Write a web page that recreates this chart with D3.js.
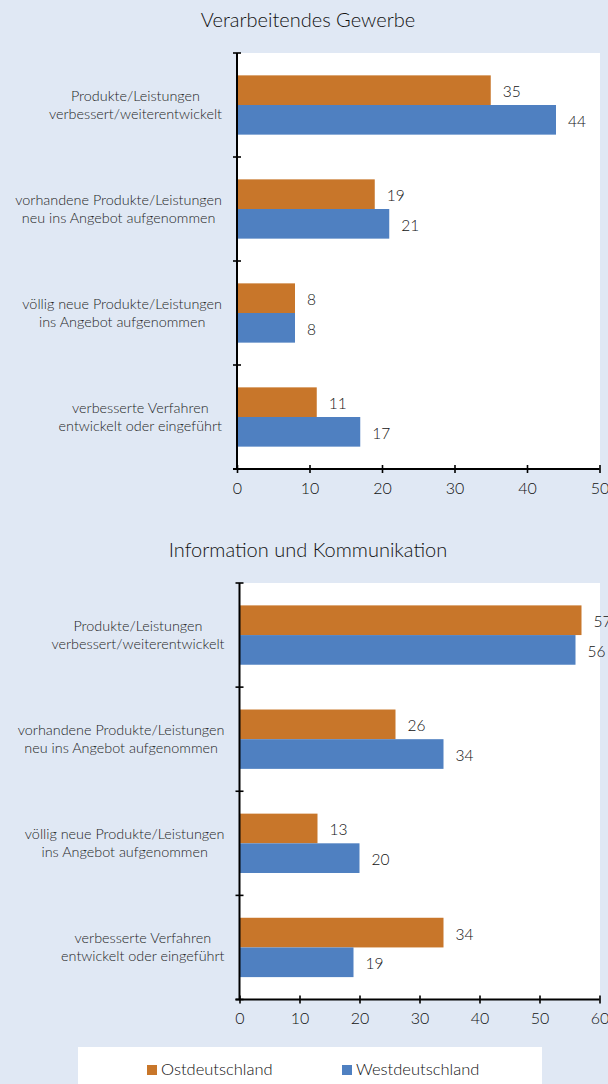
<!DOCTYPE html>
<html>
<head>
<meta charset="utf-8">
<script src="https://cdn.jsdelivr.net/npm/d3@7"></script>
<style>
  html, body { margin: 0; padding: 0; background: #E0E8F4; }
  svg { display: block; font-family: Lato, "Open Sans", sans-serif; font-weight: 300; }
</style>
</head>
<body>
<svg id="chart" width="608" height="1084"></svg>
<script>
// ---- data ----
const categories = [
  "Produkte/Leistungen|verbessert/weiterentwickelt",
  "vorhandene Produkte/Leistungen|neu ins Angebot aufgenommen",
  "völlig neue Produkte/Leistungen|ins Angebot aufgenommen",
  "verbesserte Verfahren|entwickelt oder eingeführt"
];
const seriesNames = ["Ostdeutschland", "Westdeutschland"];
const gewerbeOst = [35, 19, 8, 11];
const gewerbeWest = [44, 21, 8, 17];
const ikOst = [57, 26, 13, 34];
const ikWest = [56, 34, 20, 19];
const gewerbeTicks = [0, 10, 20, 30, 40, 50];
const ikTicks = [0, 10, 20, 30, 40, 50, 60];
const titles = ["Verarbeitendes Gewerbe", "Information und Kommunikation"];

// ---- styles ----
const colors = { "Ostdeutschland": "#C8762A", "Westdeutschland": "#4F80C1" };
const textColor = "#1e1e1e";

const svg = d3.select("#chart");
svg.append("rect").attr("width", 608).attr("height", 1084).attr("fill", "#E0E8F4");

const panels = [
  { title: titles[0], ost: gewerbeOst, west: gewerbeWest, ticks: gewerbeTicks,
    titleY: 27, top: 53, bottom: 469, x0: 237, x1: 599.5 },
  { title: titles[1], ost: ikOst, west: ikWest, ticks: ikTicks,
    titleY: 557, top: 583, bottom: 999.5, x0: 239.5, x1: 599.5 }
];

panels.forEach(p => {
  const g = svg.append("g");
  const x = d3.scaleLinear().domain([0, d3.max(p.ticks)]).range([p.x0, p.x1]);
  const y = d3.scaleBand().domain(categories).range([p.top, p.bottom])
    .paddingInner(0.43).paddingOuter(0.215);
  const ySub = d3.scaleBand().domain(seriesNames).range([0, y.bandwidth()]);

  // title
  g.append("text").attr("x", 308).attr("y", p.titleY).attr("text-anchor", "middle")
    .attr("font-size", 20).attr("fill", "#111").text(p.title);

  // plot area
  g.append("rect").attr("x", p.x0).attr("y", p.top)
    .attr("width", 600 - p.x0).attr("height", p.bottom - p.top).attr("fill", "#fff");

  // bars
  const rows = categories.map((c, i) => ({ cat: c, values: [
    { s: seriesNames[0], v: p.ost[i] }, { s: seriesNames[1], v: p.west[i] } ] }));
  const rg = g.selectAll(".row").data(rows).join("g")
    .attr("transform", d => `translate(0,${y(d.cat)})`);
  rg.selectAll("rect").data(d => d.values).join("rect")
    .attr("x", x(0)).attr("y", d => ySub(d.s))
    .attr("width", d => x(d.v) - x(0)).attr("height", ySub.bandwidth())
    .attr("fill", d => colors[d.s]);
  rg.selectAll(".val").data(d => d.values).join("text").attr("class", "val")
    .attr("x", d => x(d.v) + 12).attr("y", d => ySub(d.s) + ySub.bandwidth() / 2 + 1)
    .attr("dominant-baseline", "central").attr("font-size", 15.5).attr("fill", "#111")
    .text(d => d.v);

  // category labels: centred lines, block right-aligned near the axis
  const lab = g.selectAll(".cat").data(categories).join("text").attr("class", "cat")
    .attr("text-anchor", "middle").attr("font-size", 14.4).attr("fill", textColor);
  lab.each(function(d) {
    const cy = y(d) + y.bandwidth() / 2;
    const parts = d.split("|");
    const t = d3.select(this);
    const spans = parts.map((s, i) => t.append("tspan").attr("y", cy - 4 + i * 18).text(s));
    const w = d3.max(spans, s => s.node().getComputedTextLength());
    const cx = p.x0 - 15 - w / 2;
    spans.forEach(s => s.attr("x", cx));
  });

  // x axis
  const xa = g.append("g").attr("transform", `translate(0,${p.bottom})`)
    .call(d3.axisBottom(x).tickValues(p.ticks).tickSize(4).tickSizeOuter(0).tickPadding(9.5));
  xa.select(".domain").attr("stroke", "#000").attr("stroke-width", 2)
    .attr("d", `M${p.x0 - 4},0H${p.x1}`);
  xa.selectAll(".tick line").attr("y1", -4).attr("stroke", "#000").attr("stroke-width", 1.6);
  xa.selectAll(".tick text").attr("font-size", 16).attr("fill", "#111")
    .attr("font-family", "Lato, sans-serif").attr("font-weight", 300);

  // y axis (category boundaries)
  const bounds = categories.map(c => y(c) - y.step() * y.paddingInner() / 2);
  bounds.push(p.bottom);
  g.append("line").attr("x1", p.x0).attr("x2", p.x0).attr("y1", p.top).attr("y2", p.bottom)
    .attr("stroke", "#000").attr("stroke-width", 2);
  g.selectAll(".ytick").data(bounds).join("line").attr("class", "ytick")
    .attr("x1", p.x0 - 4).attr("x2", p.x0 + 4).attr("y1", d => d).attr("y2", d => d)
    .attr("stroke", "#000").attr("stroke-width", 1.6);
});

// legend
const lg = svg.append("g");
lg.append("rect").attr("x", 78).attr("y", 1047).attr("width", 464).attr("height", 37).attr("fill", "#fff");
const legX = d3.scaleOrdinal().domain(seriesNames).range([147, 342]);
const li = lg.selectAll(".li").data(seriesNames).join("g")
  .attr("transform", d => `translate(${legX(d)},1065)`);
li.append("rect").attr("width", 10).attr("height", 10).attr("fill", d => colors[d]);
li.append("text").attr("x", 14).attr("y", 10).attr("font-size", 16.5).attr("fill", "#111").text(d => d);
</script>
</body>
</html>
